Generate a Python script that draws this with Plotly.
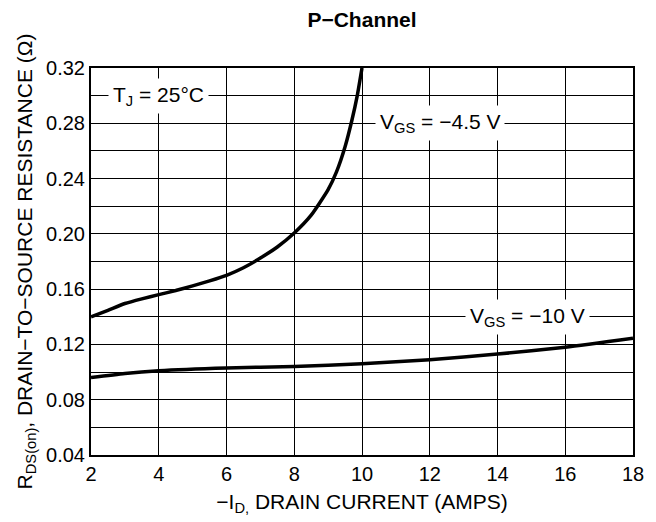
import plotly.graph_objects as go

# -4.5 V curve
id_45 = [2, 2.5, 3, 3.5, 4, 4.5, 5, 5.5, 6, 6.5, 7, 7.5, 8, 8.5, 9, 9.25, 9.5, 9.7, 9.86, 10.0]
r_45 = [0.140, 0.1447, 0.1496, 0.1530, 0.1560, 0.1590, 0.1624, 0.1660, 0.1700, 0.1755,
        0.1825, 0.1905, 0.2006, 0.2135, 0.2320, 0.2450, 0.2630, 0.282, 0.300, 0.32]
# -10 V curve
id_10 = [2, 3, 4, 6, 8, 10, 12, 14, 16, 18]
r_10 = [0.096, 0.099, 0.101, 0.103, 0.104, 0.106, 0.109, 0.113, 0.118, 0.1245]

x_ticks = [2, 4, 6, 8, 10, 12, 14, 16, 18]
y_ticks = [0.04, 0.08, 0.12, 0.16, 0.20, 0.24, 0.28, 0.32]
y_labels = ["0.04", "0.08", "0.12", "0.16", "0.20", "0.24", "0.28", "0.32"]

FONT = "Liberation Sans, Arial, Helvetica, sans-serif"

fig = go.Figure()
fig.add_trace(go.Scatter(x=id_45, y=r_45, mode="lines",
                         line=dict(color="black", width=3.5, shape="spline", smoothing=0.5),
                         showlegend=False))
fig.add_trace(go.Scatter(x=id_10, y=r_10, mode="lines",
                         line=dict(color="black", width=3.5, shape="spline", smoothing=0.6),
                         showlegend=False))

ann_font = dict(family=FONT, size=21, color="black")
fig.add_annotation(x=4, y=0.30, text="T<sub>J</sub> = 25°C", showarrow=False,
                   bgcolor="white", font=ann_font, borderpad=4)
fig.add_annotation(x=12.3, y=0.28, text="V<sub>GS</sub> = −4.5 V", showarrow=False,
                   bgcolor="white", font=ann_font, borderpad=4)
fig.add_annotation(x=14.9, y=0.14, text="V<sub>GS</sub> = −10 V", showarrow=False,
                   bgcolor="white", font=ann_font, borderpad=4)

# The page body has an 8 px margin, so the figure is sized to fit the 656x522 window.
fig.update_layout(
    width=648, height=514,
    margin=dict(l=83, r=18, t=60, b=62),
    paper_bgcolor="white", plot_bgcolor="white",
    font=dict(family=FONT, size=20, color="black"),
    title=dict(text="<b>P−Channel</b>", x=0.5, xref="paper", xanchor="center",
               y=1 - 12 / 514, yanchor="middle", font=dict(family=FONT, size=21, color="black")),
    xaxis=dict(range=[2, 18], tickvals=x_ticks, ticktext=[str(v) for v in x_ticks],
               showgrid=True, gridcolor="black", gridwidth=1, zeroline=False,
               showline=True, linecolor="black", linewidth=2, mirror=True, ticks="",
               tickfont=dict(size=20),
               title=dict(text="−I<sub>D,</sub> DRAIN CURRENT (AMPS)", standoff=10,
                          font=dict(family=FONT, size=21))),
    yaxis=dict(range=[0.04, 0.32], tickvals=y_ticks, ticktext=y_labels,
               showgrid=True, gridcolor="black", gridwidth=1, zeroline=False,
               minor=dict(dtick=0.02, tick0=0.04, showgrid=True, gridcolor="black", gridwidth=1),
               showline=True, linecolor="black", linewidth=2, mirror=True, ticks="",
               tickfont=dict(size=20),
               title=dict(text="R<sub>DS(on)</sub>, DRAIN−TO−SOURCE RESISTANCE (Ω)", standoff=8,
                          font=dict(family=FONT, size=21))),
)

fig.write_html("out.html")
